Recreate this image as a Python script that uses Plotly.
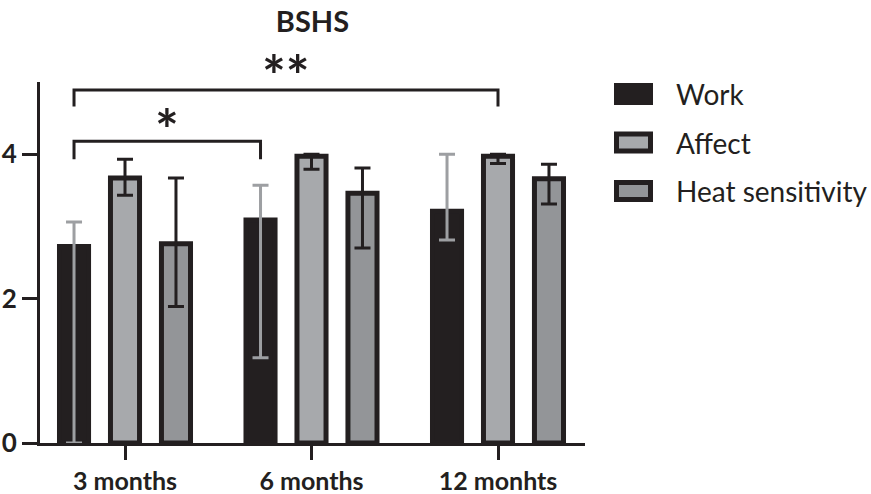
import plotly.graph_objects as go

# Follow-up time points and BSHS domains
timepoints = ["3 months", "6 months", "12 monhts"]
domains = ["Work", "Affect", "Heat sensitivity"]

# Bar heights and error-bar bounds per domain
work_mean = [2.72, 3.09, 3.21]
work_upper = [3.06, 3.57, 4.00]
work_lower = [0.00, 1.18, 2.81]

affect_mean = [3.67, 3.97, 3.97]
affect_upper = [3.93, 4.00, 4.00]
affect_lower = [3.43, 3.79, 3.87]

heat_mean = [2.76, 3.46, 3.66]
heat_upper = [3.67, 3.81, 3.86]
heat_lower = [1.89, 2.70, 3.31]

y_ticks = [0, 2, 4]

INK = "#231f20"
FILLS = [INK, "#a7a9ac", "#939598"]
ERR_COLORS = ["#9d9fa2", INK, INK]
FONT = "Lato"

series = [
    (work_mean, work_upper, work_lower),
    (affect_mean, affect_upper, affect_lower),
    (heat_mean, heat_upper, heat_lower),
]

x_pos = list(range(len(timepoints)))

fig = go.Figure()
for name, (mean, up, lo), fill, ecol in zip(domains, series, FILLS, ERR_COLORS):
    fig.add_trace(go.Bar(
        name=name,
        x=x_pos,
        y=mean,
        marker=dict(color=fill, line=dict(color=INK, width=5)),
        error_y=dict(
            type="data", symmetric=False,
            array=[u - m for u, m in zip(up, mean)],
            arrayminus=[m - l for m, l in zip(mean, lo)],
            color=ecol, thickness=3, width=8,
        ),
        showlegend=False,
    ))

# Plot-area geometry in pixels
L, R, T, B = 40, 585, 82, 443
W, H = R - L, B - T

BARGAP = 0.18
slot = (1 - BARGAP) / len(domains)


def bar_x(group, idx):
    return group + (idx - (len(domains) - 1) / 2) * slot


def px_x(px):
    return (px - L) / W


def px_y(py):
    return (B - py) / H


shapes = []
annotations = []


def bracket(x0, x1, y_top, y_end, label, label_py):
    shapes.append(dict(type="path", xref="x", yref="y",
                       path=f"M{x0},{y_end} L{x0},{y_top} L{x1},{y_top} L{x1},{y_end}",
                       line=dict(color=INK, width=3)))
    annotations.append(dict(x=(x0 + x1) / 2, y=px_y(label_py), xref="x", yref="paper",
                            yanchor="middle", text=label, showarrow=False,
                            font=dict(family=FONT, size=56, color=INK, weight="bold")))


# 3 months vs 12 months
bracket(bar_x(0, 0), 2, 4.89, 4.66, "**", 75)
# 3 months vs 6 months
bracket(bar_x(0, 0), bar_x(1, 0), 4.18, 3.93, "*", 128)

# Legend drawn as swatches and labels
legend_rows = [94, 142.5, 191]
for name, fill, cy in zip(domains, FILLS, legend_rows):
    shapes.append(dict(type="rect", xref="paper", yref="paper",
                       x0=px_x(616.5), x1=px_x(650.5),
                       y0=px_y(cy + 8.5), y1=px_y(cy - 8.5),
                       fillcolor=fill, line=dict(color=INK, width=5)))
    annotations.append(dict(x=px_x(674), y=px_y(cy), xref="paper", yref="paper",
                            xanchor="left", yanchor="middle", text=name,
                            showarrow=False,
                            font=dict(family=FONT, size=28, color=INK)))

fig.update_layout(
    width=871, height=494,
    margin=dict(l=L, r=871 - R, t=T, b=494 - B, pad=0, autoexpand=False),
    paper_bgcolor="white", plot_bgcolor="white",
    barmode="group", bargap=BARGAP, bargroupgap=0.43,
    title=dict(text="<b>BSHS</b>", x=0.5, xref="paper", xanchor="center",
               y=1 - 22 / 494, yanchor="middle", automargin=False,
               font=dict(family=FONT, size=29, color=INK)),
    xaxis=dict(range=[(L - 125) / 186.5, 2 + (R - 498) / 186.5],
               tickvals=x_pos, ticktext=timepoints, automargin=False,
               showline=True, linecolor=INK, linewidth=3,
               ticks="outside", ticklen=14, tickwidth=3, tickcolor=INK,
               showgrid=False, zeroline=False,
               tickfont=dict(family=FONT, size=25, color=INK, weight="bold")),
    yaxis=dict(range=[0, 5], tickvals=y_ticks, automargin=False,
               showline=True, linecolor=INK, linewidth=3,
               ticks="outside", ticklen=15, tickwidth=3, tickcolor=INK,
               showgrid=False, zeroline=False,
               tickfont=dict(family=FONT, size=26, color=INK, weight="bold")),
    shapes=shapes,
    annotations=annotations,
)

fig.write_html("out.html")
